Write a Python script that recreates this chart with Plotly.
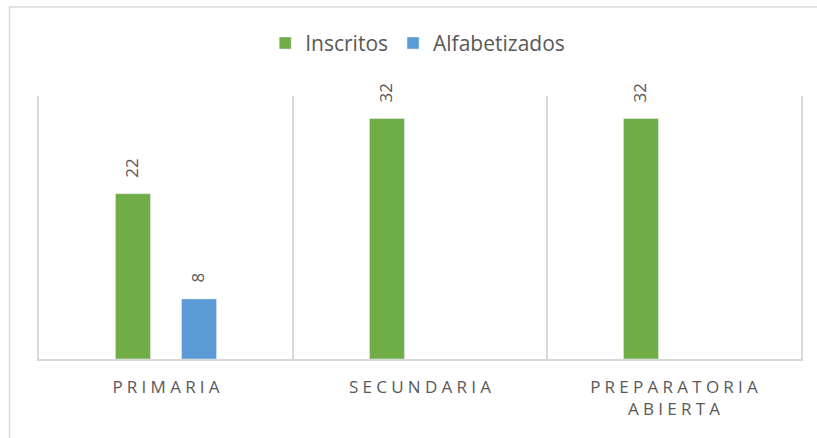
import plotly.graph_objects as go

categories = ["Primaria", "Secundaria", "Preparatoria abierta"]
tick_labels = ["PRIMARIA", "SECUNDARIA", "PREPARATORIA<br>ABIERTA"]
inscritos = [22, 32, 32]
alfabetizados = [8, None, None]

GREEN = "#70AD47"
BLUE = "#5B9BD5"
TEXT = "#595959"
GRID = "#D9D9D9"
FONT = "Open Sans"

def spaced(s):
    return "<br>".join("\u2005".join(list(line)) for line in s.split("<br>"))

fig = go.Figure()
fig.add_trace(go.Bar(name="Inscritos", x=categories, y=inscritos, marker_color=GREEN))
fig.add_trace(go.Bar(name="Alfabetizados", x=categories, y=alfabetizados, marker_color=BLUE))

annotations = []
for vals, shift in ((inscritos, -33), (alfabetizados, 33)):
    for c, v in zip(categories, vals):
        if v is None:
            continue
        annotations.append(dict(
            x=c, y=v, xref="x", yref="y", text=str(v), showarrow=False,
            textangle=-90, xshift=shift - 1.5, yshift=14, yanchor="bottom",
            font=dict(family=FONT, size=17, color=TEXT)))

fig.update_layout(
    width=817, height=438,
    margin=dict(l=39, r=16, t=96, b=79),
    paper_bgcolor="white", plot_bgcolor="white",
    barmode="group", bargap=0.48, bargroupgap=0.47,
    font=dict(family=FONT, color=TEXT),
    legend=dict(orientation="h", x=0.497, xanchor="center", y=1.2, yanchor="middle",
                font=dict(family=FONT, size=21, color=TEXT), itemwidth=30,
                traceorder="normal"),
    annotations=annotations,
    shapes=[dict(type="rect", xref="paper", yref="paper",
                 x0=(9.5 - 39) / 762, x1=1.2, y0=-0.6, y1=1 + (96 - 7) / 263,
                 line=dict(color=GRID, width=1.5), layer="below")],
    xaxis=dict(tickmode="array", tickvals=categories, ticktext=[spaced(t) for t in tick_labels],
               tickson="boundaries", showgrid=True, gridcolor=GRID, gridwidth=1.5,
               showline=True, linecolor=GRID, linewidth=1.5, ticks="",
               tickfont=dict(family=FONT, size=17, color=TEXT), ticklabelstandoff=12),
    yaxis=dict(range=[0, 35], showgrid=False, showticklabels=False, zeroline=False,
               showline=True, mirror=True, linecolor=GRID, linewidth=1.5, ticks=""),
)

fig.write_html("out.html", config={"displayModeBar": False},
               post_script="document.body.style.margin='0';")
